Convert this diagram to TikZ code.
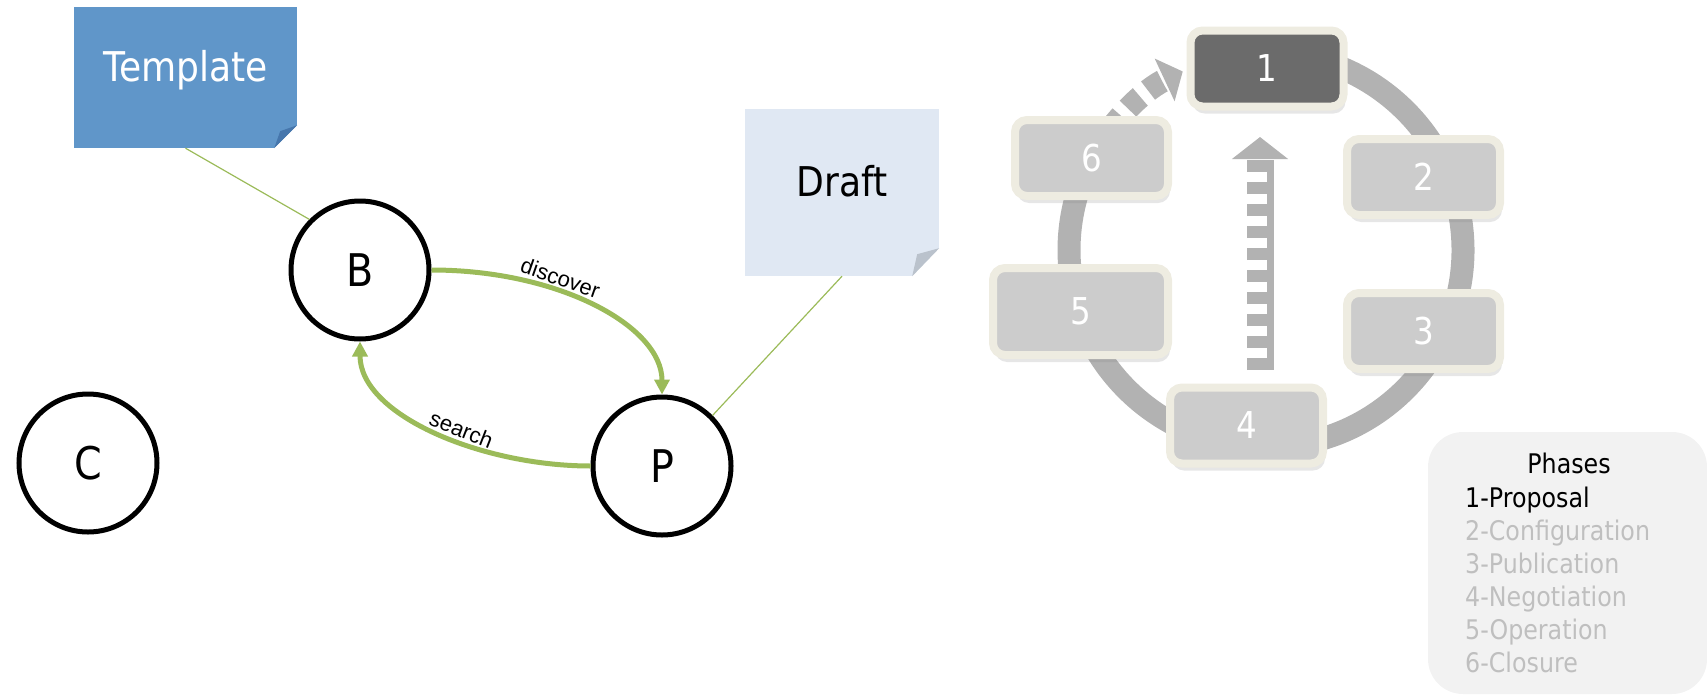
\documentclass[tikz,border=0pt]{standalone}
\usepackage{fontspec}
\setmainfont[FakeStretch=0.88]{DejaVu Sans}
\newfontfamily\arialfont{Liberation Sans}
\usetikzlibrary{positioning,calc,shadows,arrows.meta}

\definecolor{leaf}{RGB}{155,187,89}
\definecolor{tmplblue}{RGB}{96,150,201}
\definecolor{tmplfold}{RGB}{70,118,172}
\definecolor{draftblue}{RGB}{224,232,243}
\definecolor{draftfold}{RGB}{186,194,204}
\definecolor{ringgray}{RGB}{178,178,178}
\definecolor{rim}{RGB}{238,236,225}
\definecolor{phasegray}{RGB}{204,204,204}
\definecolor{phasedark}{RGB}{107,107,107}
\definecolor{legendbg}{RGB}{242,242,242}
\definecolor{legendtxt}{RGB}{191,191,191}

\tikzset{%
  actor/.style={circle,draw=black,line width=5pt,fill=white,minimum size=138pt,
                inner sep=0pt,font=\fontsize{45}{54}\selectfont},
  note/.style={rectangle,inner sep=0pt,text height=31pt,text depth=24pt,
               font=\fontsize{41}{49}\selectfont},
  link/.style={draw=leaf,line width=1.2pt},
  flow/.style={draw=leaf,line width=5pt,-{Triangle[length=15pt,width=15pt]}},
  flowlbl/.style={font=\arialfont\fontsize{22}{26}\selectfont,sloped,above,inner sep=2pt},
  ring/.style={draw=ringgray,line width=23pt},
  phase/.style={rectangle,rounded corners=12pt,draw=rim,line width=8pt,fill=phasegray,
                minimum width=153pt,minimum height=76pt,text=white,
                font=\fontsize{37}{44}\selectfont,
                drop shadow={opacity=.2,shadow xshift=2pt,shadow yshift=-7pt}},
  phaseitem/.style={anchor=base west,inner sep=0pt,font=\fontsize{27}{32}\selectfont}
}

\begin{document}
\begin{tikzpicture}[x=1pt,y=1pt]
  \useasboundingbox (0,0) rectangle (1707,-696);

  % notes
  \node[note,fill=tmplblue,text=white,minimum width=223pt,minimum height=141pt]
    (tmpl) at (185.5,-77.5) {Template};
  \fill[white] (tmpl.south east) -- ++(0,23) -- ++(-23,-23) -- cycle;
  \fill[tmplfold] ($(tmpl.south east)+(0,23)$) -- ++(-23,-23) -- ++(6,17) -- cycle;
  \node[note,fill=draftblue,minimum width=194pt,minimum height=167pt]
    (draft) at (842,-192.5) {Draft};
  \fill[white] (draft.south east) -- ++(0,28) -- ++(-27,-28) -- cycle;
  \fill[draftfold] ($(draft.south east)+(0,28)$) -- ++(-27,-28) -- ++(5,22) -- cycle;

  % actors
  \node[actor] (B) at (360,-270) {B};
  \node[actor] (C) at (88,-463) {C};
  \node[actor] (P) at (662,-466) {P};

  \draw[link] (tmpl.south) -- (B.north west);
  \draw[link] (draft.south) -- (P.north east);
  \draw[flow] (B.east) .. controls +(128,0) and +(0,68) ..
    node[flowlbl,pos=.36] (lbl-discover) {discover} (P.north);
  \draw[flow] (P.west) .. controls +(-108,0) and +(0,-74) ..
    node[flowlbl,pos=.42] (lbl-search) {search} (B.south);

  % phase cycle
  \coordinate (hub) at (1266,-250);
  \draw[ring] ($(hub)+(95:197)$) arc[start angle=95,end angle=-215,radius=197];
  \draw[ring,dash pattern=on 17pt off 10pt,-{Triangle[length=20pt,width=46pt]}]
    ($(hub)+(150:197)$) arc[start angle=150,end angle=115,radius=197];
  \coordinate (rise-foot) at (1260,-370);
  \coordinate (rise-tip) at (1260,-137);
  \fill[ringgray] (1267,-370) rectangle (1273.5,-160);
  \draw[ring,line width=27pt,dash pattern=on 12pt off 10pt,
        -{Triangle[length=22pt,width=55pt]}] (rise-foot) -- (rise-tip);

  \node[phase,fill=phasedark] (stage-1) at (1267,-68.5) {1};
  \node[phase] (stage-2) at (1423.5,-177) {2};
  \node[phase] (stage-3) at (1423.5,-331) {3};
  \node[phase] (stage-4) at (1246.5,-425.5) {4};
  \node[phase,minimum width=175pt,minimum height=87pt] (stage-5) at (1080.5,-311.5) {5};
  \node[phase] (stage-6) at (1091.5,-158) {6};

  % legend
  \node[rectangle,rounded corners=35pt,fill=legendbg,minimum width=279pt,minimum height=262pt]
    (legend) at (1567.5,-563) {};
  \node[phaseitem,anchor=base] (phases) at (1569,-473) {Phases};
  \node[phaseitem] (ph-1) at (1465,-507) {1-Proposal};
  \foreach \t [count=\i from 2] in {Configuration,Publication,Negotiation,Operation,Closure}
    \node[phaseitem,text=legendtxt] (ph-\i) at (1465,{-507-33*(\i-1)}) {\i-\t};
\end{tikzpicture}
\end{document}
